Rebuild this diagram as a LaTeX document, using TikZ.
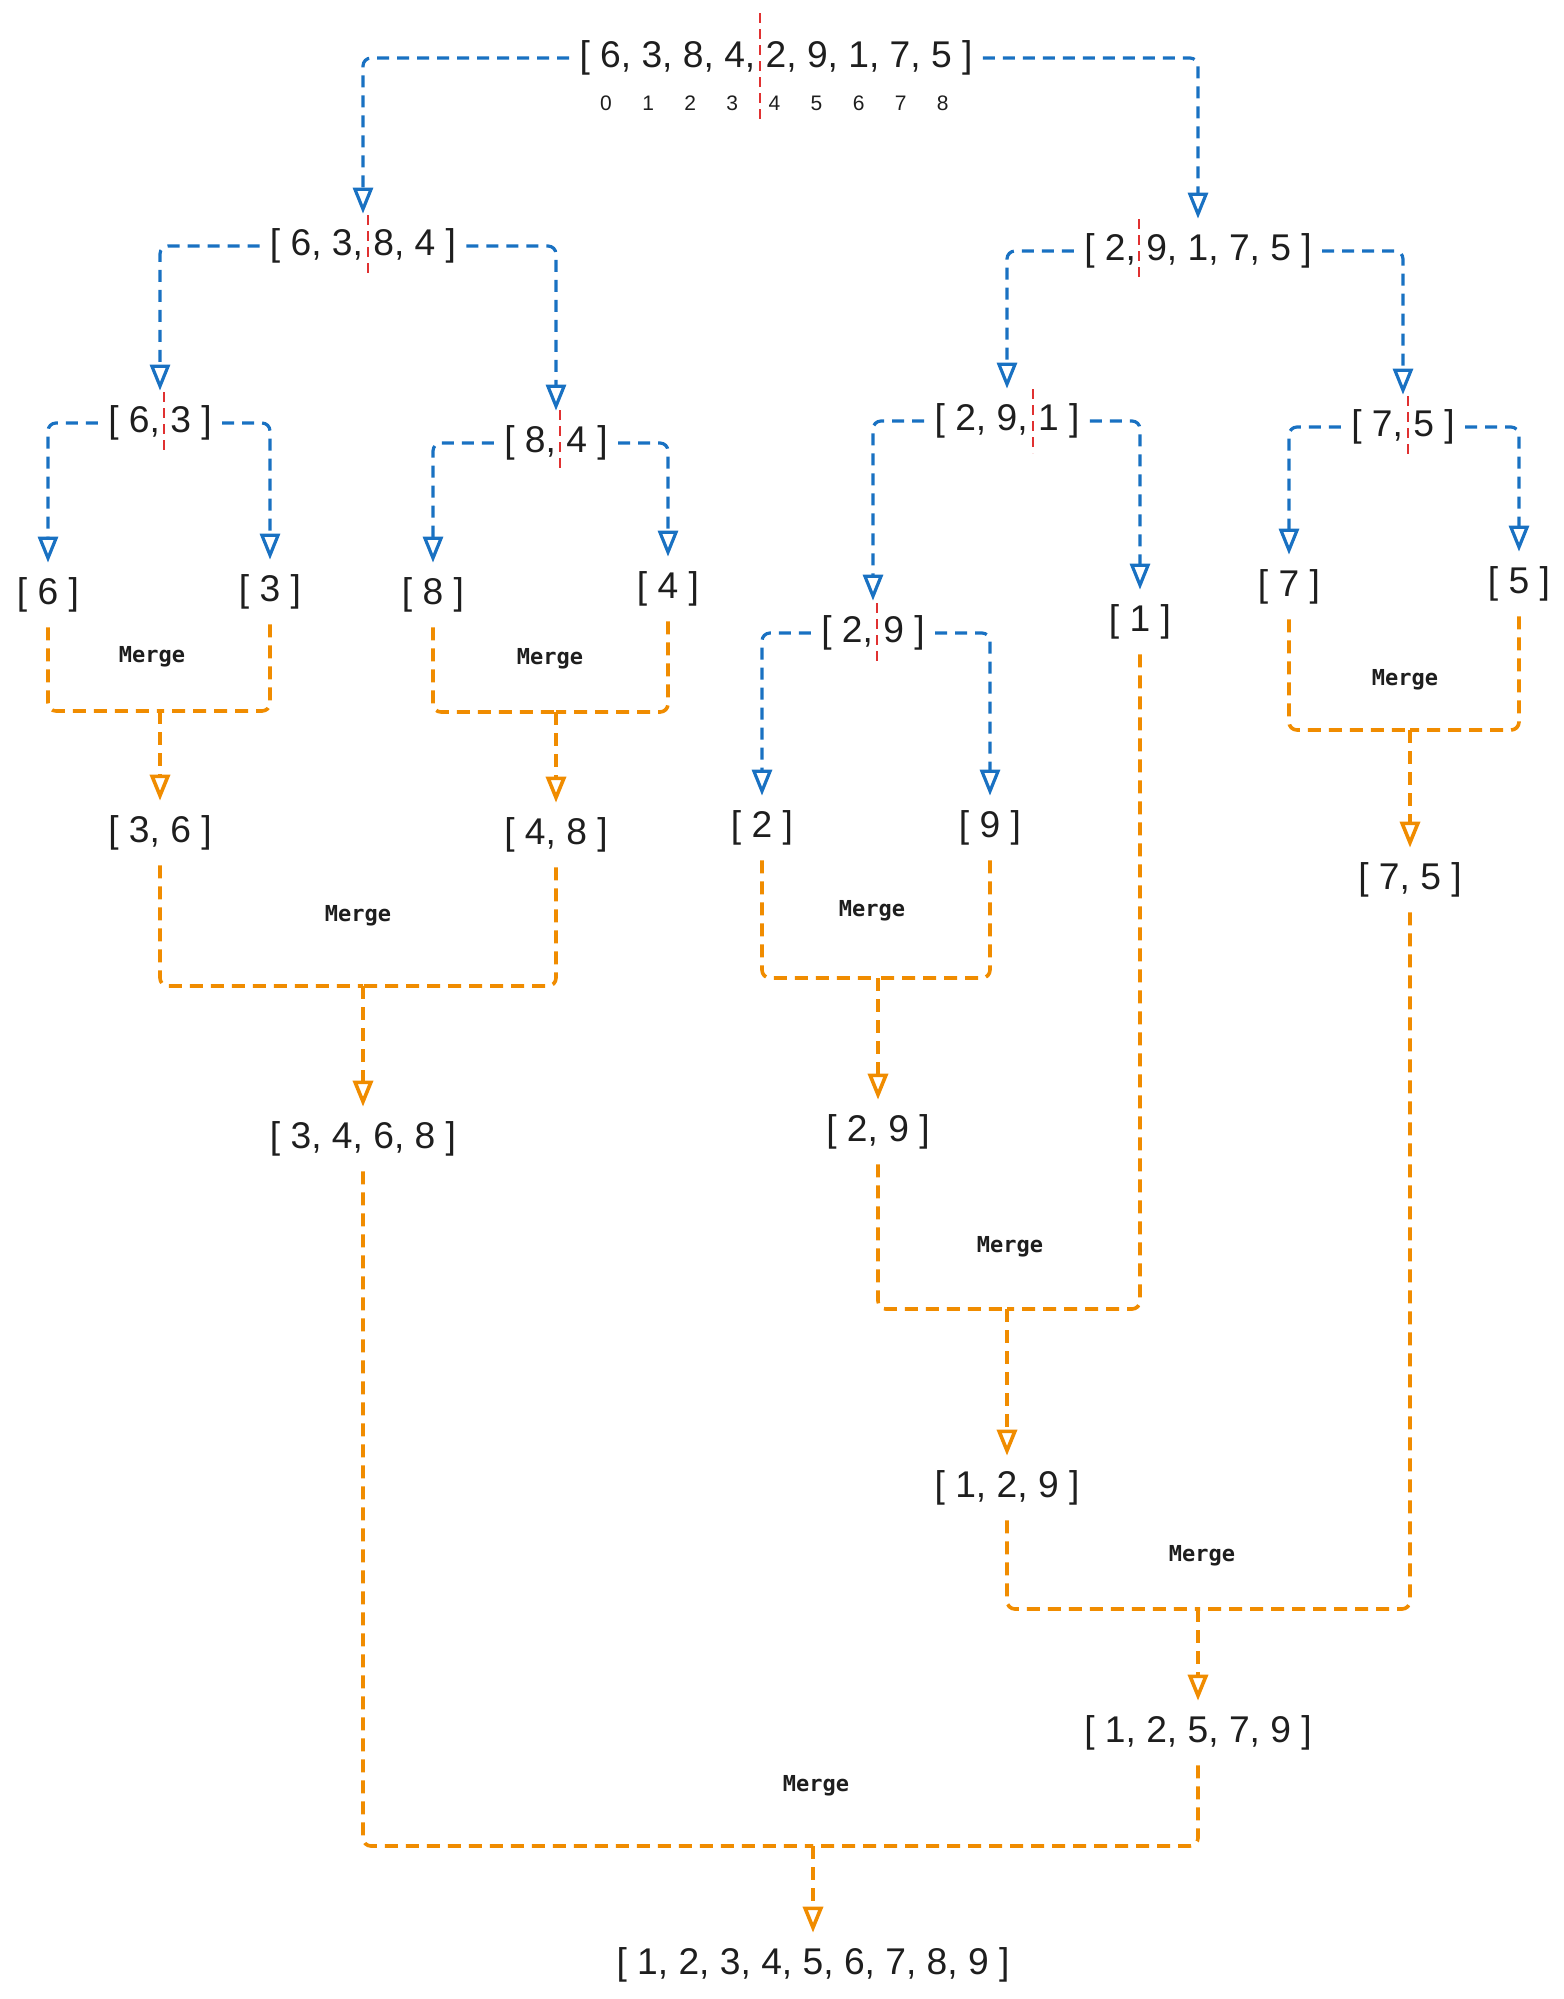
\documentclass[tikz,border=0pt]{standalone}
\usepackage{fontspec}
\setmainfont{Liberation Sans}
\newfontfamily\handfont{DejaVu Sans Mono}
\usetikzlibrary{arrows.meta}
\definecolor{splitblue}{HTML}{1971C2}
\definecolor{mergeorange}{HTML}{F08C00}
\definecolor{cutred}{HTML}{E03131}
\definecolor{ink}{HTML}{1E1E1E}
\tikzset{
  lst/.style={text=ink, font=\fontsize{18.6}{22}\selectfont, inner xsep=5pt, inner ysep=0pt, minimum height=32pt},
  idx/.style={text=ink, font=\fontsize{10.5}{12}\selectfont, inner sep=0pt},
  lbl/.style={text=ink, font=\handfont\bfseries\fontsize{11}{13}\selectfont},
  tip/.style={-{Triangle[open, length=13pt, width=10pt]}},
  split/.style={splitblue, line width=1.6pt, dash pattern=on 6pt off 4pt, rounded corners=4pt, tip},
  merge/.style={mergeorange, line width=1.8pt, dash pattern=on 6.5pt off 4pt, rounded corners=4pt},
  cut/.style={cutred, line width=1.4pt, dash pattern=on 5pt off 3pt}
}
\begin{document}
\begin{tikzpicture}[x=0.5pt, y=-0.5pt]
  \useasboundingbox (0,0) rectangle (1564,1999);
  % splitting
  \node[lst] (top) at (776,58) {[ 6, 3, 8, 4, 2, 9, 1, 7, 5 ]};
  \foreach \i in {0,...,8}
    \node[idx] (i\i) at (606+42.1*\i,103) {\i};
  \node[lst] (l)   at (363,246)  {[ 6, 3, 8, 4 ]};
  \node[lst] (r)   at (1198,251) {[ 2, 9, 1, 7, 5 ]};
  \node[lst] (ll)  at (160,423)  {[ 6, 3 ]};
  \node[lst] (lr)  at (556,443)  {[ 8, 4 ]};
  \node[lst] (rl)  at (1007,421) {[ 2, 9, 1 ]};
  \node[lst] (rr)  at (1403,427) {[ 7, 5 ]};
  \node[lst] (rll) at (873,633)  {[ 2, 9 ]};
  \node[lst] (s6) at (48,595)   {[ 6 ]};
  \node[lst] (s3) at (270,592)  {[ 3 ]};
  \node[lst] (s8) at (433,595)  {[ 8 ]};
  \node[lst] (s4) at (668,589)  {[ 4 ]};
  \node[lst] (s1) at (1140,622) {[ 1 ]};
  \node[lst] (s7) at (1289,587) {[ 7 ]};
  \node[lst] (s5) at (1519,584) {[ 5 ]};
  \node[lst] (s2) at (762,828)  {[ 2 ]};
  \node[lst] (s9) at (990,828)  {[ 9 ]};
  \draw[cut] (760,13) -- (760,122);
  \draw[cut] (368,215) -- (368,278);
  \draw[cut] (1139,219) -- (1139,282);
  \draw[cut] (164,392) -- (164,452);
  \draw[cut] (560,410) -- (560,471);
  \draw[cut] (1033,389) -- (1033,453);
  \draw[cut] (1408,396) -- (1408,455);
  \draw[cut] (877,603) -- (877,661);
  \draw[split] (top.west) -| (l.north);
  \draw[split] (top.east) -| (r.north);
  \draw[split] (l.west) -| (ll.north);
  \draw[split] (l.east) -| (lr.north);
  \draw[split] (r.west) -| (rl.north);
  \draw[split] (r.east) -| (rr.north);
  \draw[split] (ll.west) -| (s6.north);
  \draw[split] (ll.east) -| (s3.north);
  \draw[split] (lr.west) -| (s8.north);
  \draw[split] (lr.east) -| (s4.north);
  \draw[split] (rl.west) -| (rll.north);
  \draw[split] (rl.east) -| (s1.north);
  \draw[split] (rr.west) -| (s7.north);
  \draw[split] (rr.east) -| (s5.north);
  \draw[split] (rll.west) -| (s2.north);
  \draw[split] (rll.east) -| (s9.north);
  % merging
  \node[lst] (m36)    at (160,833)  {[ 3, 6 ]};
  \node[lst] (m48)    at (556,835)  {[ 4, 8 ]};
  \node[lst] (m75)    at (1410,880) {[ 7, 5 ]};
  \node[lst] (m29)    at (878,1132) {[ 2, 9 ]};
  \node[lst] (m3468)  at (363,1139) {[ 3, 4, 6, 8 ]};
  \node[lst] (m129)   at (1007,1488) {[ 1, 2, 9 ]};
  \node[lst] (m12579) at (1198,1733) {[ 1, 2, 5, 7, 9 ]};
  \node[lst] (mall)   at (813,1965) {[ 1, 2, 3, 4, 5, 6, 7, 8, 9 ]};
  \coordinate (j36)    at (160,711);
  \coordinate (j48)    at (556,712);
  \coordinate (j75)    at (1410,730);
  \coordinate (j29)    at (878,978);
  \coordinate (j3468)  at (363,986);
  \coordinate (j129)   at (1007,1309);
  \coordinate (j12579) at (1198,1609);
  \coordinate (jall)   at (813,1846);
  \draw[merge] (s6.south) |- (j36);  \draw[merge] (s3.south) |- (j36);
  \draw[merge, tip] (j36) -- (m36.north);
  \draw[merge] (s8.south) |- (j48);  \draw[merge] (s4.south) |- (j48);
  \draw[merge, tip] (j48) -- (m48.north);
  \draw[merge] (s7.south) |- (j75);  \draw[merge] (s5.south) |- (j75);
  \draw[merge, tip] (j75) -- (m75.north);
  \draw[merge] (s2.south) |- (j29);  \draw[merge] (s9.south) |- (j29);
  \draw[merge, tip] (j29) -- (m29.north);
  \draw[merge] (m36.south) |- (j3468);  \draw[merge] (m48.south) |- (j3468);
  \draw[merge, tip] (j3468) -- (m3468.north);
  \draw[merge] (m29.south) |- (j129);  \draw[merge] (s1.south) |- (j129);
  \draw[merge, tip] (j129) -- (m129.north);
  \draw[merge] (m129.south) |- (j12579);  \draw[merge] (m75.south) |- (j12579);
  \draw[merge, tip] (j12579) -- (m12579.north);
  \draw[merge] (m3468.south) |- (jall);  \draw[merge] (m12579.south) |- (jall);
  \draw[merge, tip] (jall) -- (mall.north);
  \node[lbl] (g36)    at (152,657)  {Merge};
  \node[lbl] (g48)    at (550,659)  {Merge};
  \node[lbl] (g75)    at (1405,680) {Merge};
  \node[lbl] (g29)    at (872,911)  {Merge};
  \node[lbl] (g3468)  at (358,916)  {Merge};
  \node[lbl] (g129)   at (1010,1247) {Merge};
  \node[lbl] (g12579) at (1202,1556) {Merge};
  \node[lbl] (gall)   at (816,1786) {Merge};
\end{tikzpicture}
\end{document}
